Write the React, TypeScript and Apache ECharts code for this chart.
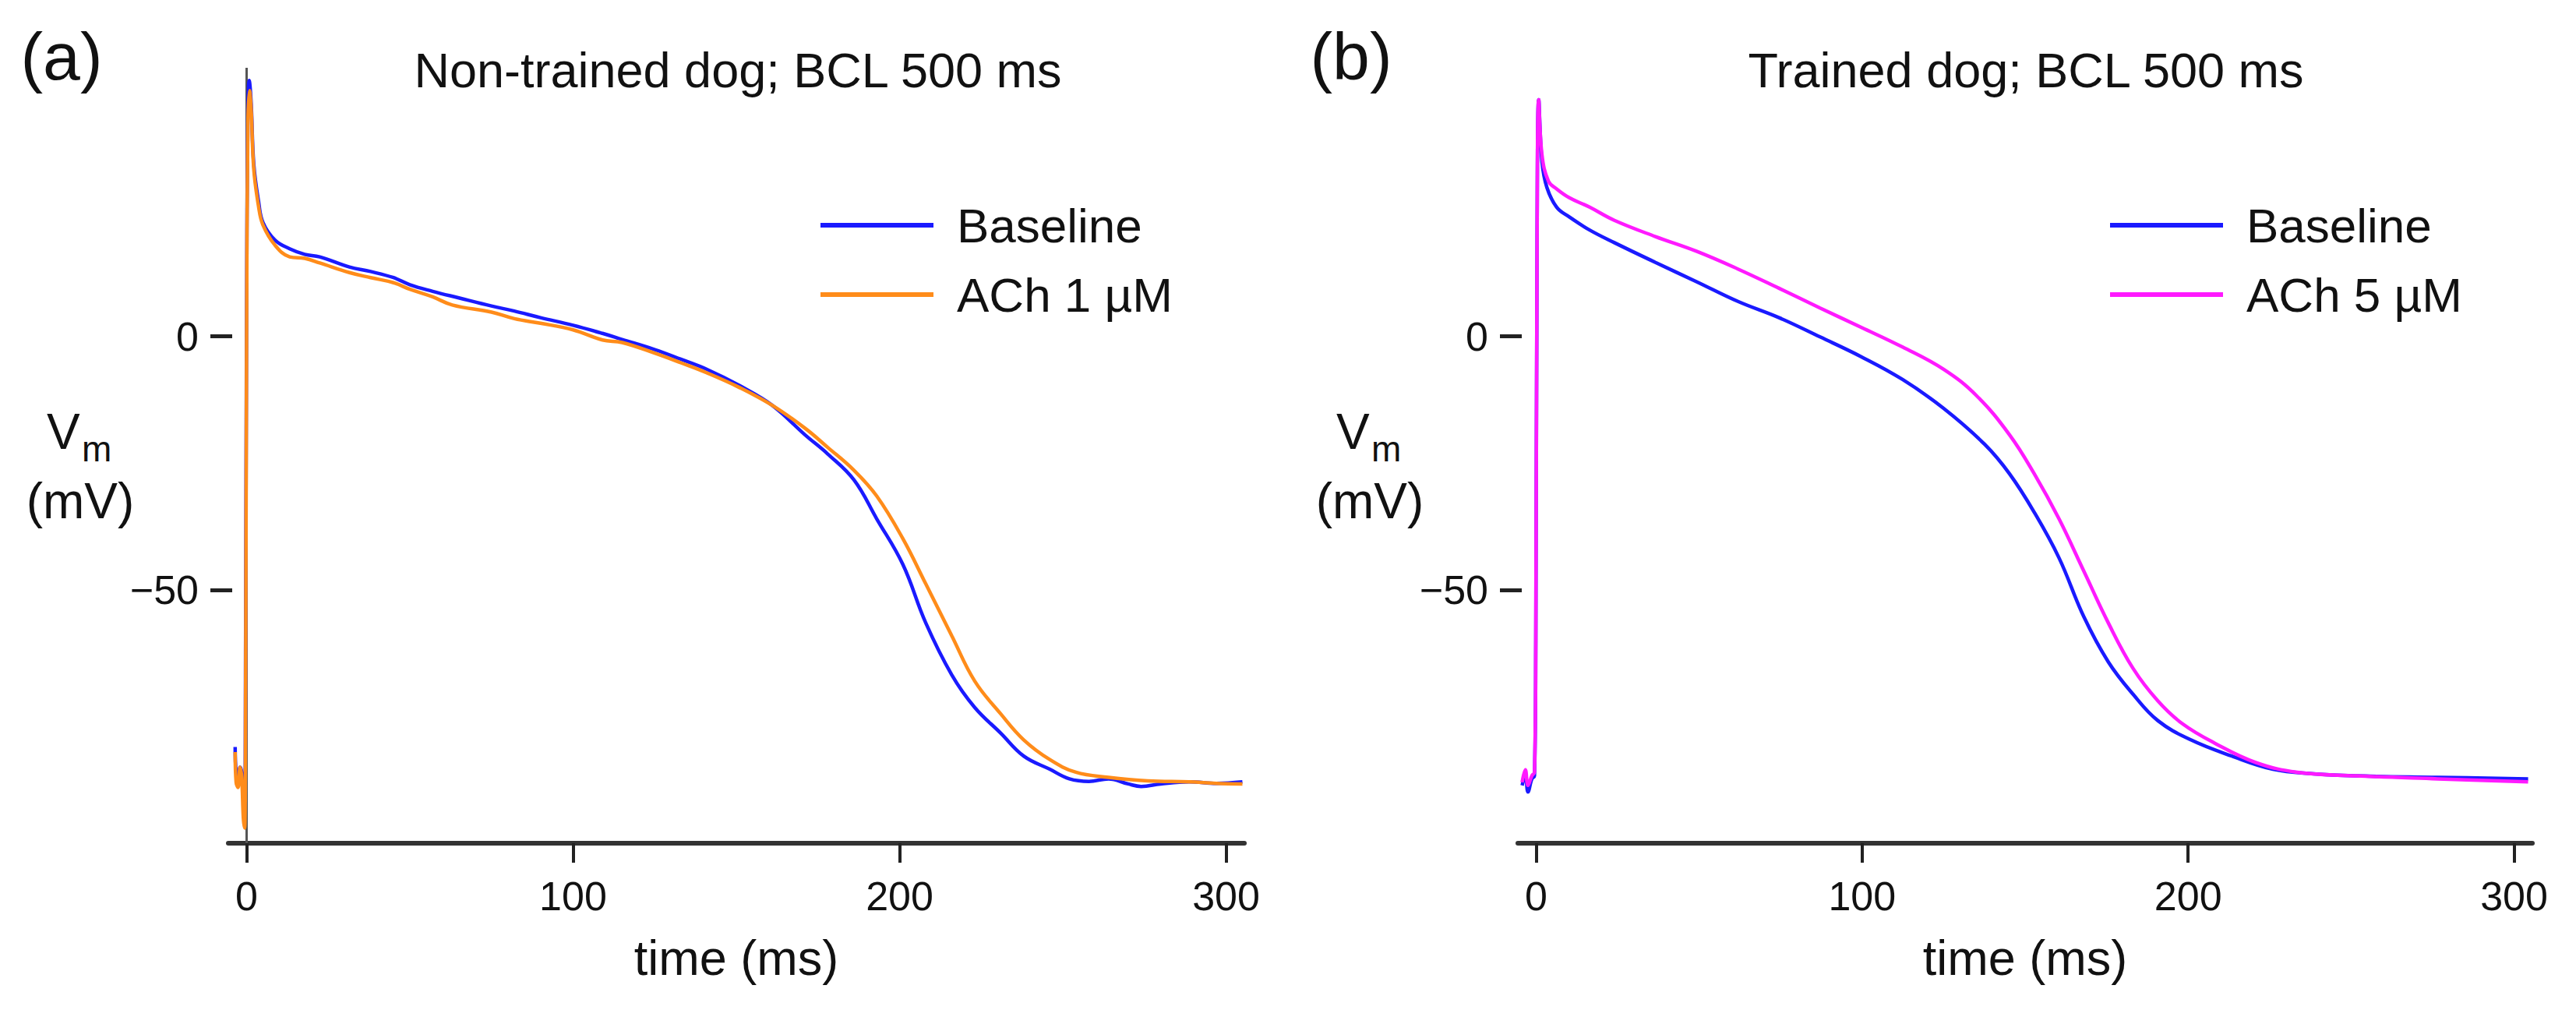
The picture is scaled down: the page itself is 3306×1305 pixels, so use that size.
import React, { useEffect, useRef } from "react";
import * as echarts from "echarts";

// ---------- data ----------
const xTicks = [0, 100, 200, 300];
const yTicks = [-50, 0];

// Panel (a): non-trained dog
const tA_base = [-3.5, -3.2, -2.6, -2.0, -1.5, -1.0, -0.6, -0.3, 0.0, 0.4, 0.8, 1.4, 2.2, 3.7, 5.0, 8.7, 13.2, 17.8, 22.4, 31.5, 38, 45, 50, 57, 65, 75, 82, 90, 100, 109, 115, 125, 133, 141, 151, 161, 171, 178, 186, 193, 201, 208, 216, 223, 231, 238, 246, 252, 258, 264, 270, 274, 280, 289, 297, 305];
const vA_base = [-81, -86, -87, -85, -86, -90, -93, -60, 5, 45, 50.5, 46, 34, 26.5, 22.5, 19, 17.3, 16.2, 15.7, 13.7, 12.8, 11.6, 10.2, 8.9, 7.6, 6.0, 5.0, 3.7, 2.2, 0.6, -0.6, -2.6, -4.5, -6.5, -9.7, -13.6, -19.4, -23.2, -28.3, -36, -45, -56.5, -66.8, -73.2, -78.3, -82.8, -85.4, -87.3, -87.8, -87.3, -88.3, -88.8, -88.3, -87.9, -88.2, -87.9];

const tA_ach = [-3.5, -3.2, -2.6, -2.0, -1.5, -1.0, -0.6, -0.3, 0.0, 0.4, 0.9, 1.4, 2.2, 3.7, 5.0, 8.7, 13.2, 17.8, 22.4, 31.5, 38, 45, 50, 57, 63, 75, 82, 90, 100, 109, 115, 125, 133, 141, 151, 161, 171, 178, 186, 193, 201, 208, 216, 223, 231, 238, 246, 254, 264, 276, 289, 297, 305];
const vA_ach = [-82, -88, -89, -85, -87, -95, -97, -70, 0, 42, 48.5, 45, 33, 25.5, 22, 18, 15.7, 15.4, 14.5, 12.6, 11.6, 10.6, 9.3, 7.8, 6.2, 4.8, 3.5, 2.6, 1.3, -0.7, -1.2, -3.3, -5.2, -7.2, -10.1, -13.6, -18.1, -21.9, -26.4, -31.5, -39.9, -48.8, -59.1, -68, -74.5, -79.6, -83.5, -86, -87, -87.7, -87.9, -88.2, -88.3];

// thin vertical trace at t = 0 in panel (a)
const stimLineA = [[0, 53], [0, -100]];

// Panel (b): trained dog
const tB_base = [-4.3, -3.3, -2.5, -1.3, -0.5, -0.1, 0.3, 0.8, 1.8, 3.3, 6.3, 10.1, 16.4, 24, 36.6, 49.2, 61.9, 74.5, 87.1, 99.7, 112.4, 125, 137.6, 145.2, 152.8, 160.4, 168, 175.5, 183.1, 190.7, 200.8, 213.4, 226, 238.6, 251.3, 276.5, 304.3];
const vB_base = [-88.6, -86.7, -89.9, -87.3, -86.7, -60, 20, 46.7, 34.5, 29.4, 25.5, 23.6, 21, 18.5, 14.6, 10.8, 6.9, 3.7, -0.1, -4, -8.5, -14.2, -21.3, -27.1, -34.7, -43.7, -55.3, -64.2, -70.6, -75.8, -79.6, -82.8, -85.4, -86.3, -86.7, -87, -87.3];

const tB_ach = [-4.3, -3.3, -2.5, -1.3, -0.5, -0.1, 0.3, 0.8, 1.8, 3.8, 6.3, 10.1, 16.4, 24, 36.6, 49.2, 61.9, 74.5, 87.1, 99.7, 112.4, 125, 135.1, 145.2, 152.8, 160.4, 168, 175.5, 183.1, 190.7, 198.2, 208.3, 220.9, 233.5, 251.3, 276.5, 304.3];
const vB_ach = [-88, -85.5, -88.6, -86.7, -86, -60, 20, 46.7, 35.8, 30.6, 29.1, 27.4, 25.5, 22.9, 19.7, 16.8, 13.3, 9.5, 5.6, 1.8, -2.1, -6.5, -11.7, -19.4, -27.1, -36, -46.3, -56.5, -65.5, -71.9, -76.4, -80.3, -84.1, -86, -86.7, -87.3, -87.9];

const titles = ["Non-trained dog; BCL 500 ms", "Trained dog; BCL 500 ms"];
const panelLetters = ["(a)", "(b)"];
const legendNames = [["Baseline", "ACh 1 µM"], ["Baseline", "ACh 5 µM"]];

// ---------- styling ----------
const FONT = "Liberation Sans, Arial, sans-serif";
const TXT = "#111111";
const BLUE = "#1a1aff";
const ORANGE = "#ff8c1a";
const MAGENTA = "#ff1aff";

const zip = (t: number[], v: number[]) => t.map((x, i) => [x, v[i]]);

const GRIDS = [
  { left: 293, top: 74, width: 1304, height: 1008 },
  { left: 1948, top: 74, width: 1302, height: 1008 },
];

export default function App() {
  const ref = useRef<HTMLDivElement>(null);

  useEffect(() => {
    if (!ref.current) return;
    const chart = echarts.init(ref.current, null, { renderer: "svg" });

    const xAxes = GRIDS.map((_, i) => ({
      type: "value",
      gridIndex: i,
      min: -5.6,
      max: 305.6,
      axisLine: { show: true, onZero: false, lineStyle: { color: "#333333", width: 6 } },
      axisTick: { show: true, length: 25, customValues: xTicks, lineStyle: { color: "#222", width: 4 } },
      axisLabel: { customValues: xTicks, margin: 42, fontSize: 52, lineHeight: 52, color: TXT, fontFamily: FONT },
      splitLine: { show: false },
      name: "time (ms)",
      nameLocation: "middle",
      nameGap: 115,
      nameTextStyle: { fontSize: 63, lineHeight: 63, color: TXT, fontFamily: FONT },
    }));

    const yAxes = GRIDS.map((_, i) => ({
      type: "value",
      gridIndex: i,
      min: -100,
      max: 55,
      offset: -5,
      axisLine: { show: false, onZero: false },
      axisTick: { show: true, length: 28, customValues: yTicks, lineStyle: { color: "#222", width: 5 } },
      axisLabel: {
        customValues: yTicks,
        margin: 43,
        fontSize: 52,
        color: TXT,
        fontFamily: FONT,
        formatter: (v: number) => String(v).replace("-", "\u2212"),
      },
      splitLine: { show: false },
    }));

    const lineSeries = (name: string, idx: number, data: number[][], color: string, z: number, extra: any = {}) => ({
      type: "line",
      name,
      xAxisIndex: idx,
      yAxisIndex: idx,
      data,
      symbol: "none",
      showSymbol: false,
      smooth: 0.4,
      lineStyle: { color, width: 4.5 },
      itemStyle: { color },
      z,
      ...extra,
    });

    const textEl = (text: string, x: number, y: number, size: number, align = "center") => ({
      type: "text",
      x,
      y,
      silent: true,
      style: {
        text,
        fontSize: size,
        fontFamily: FONT,
        fill: TXT,
        align,
        textAlign: align,
        verticalAlign: "middle",
        textVerticalAlign: "middle",
      },
    });

    const graphics: any[] = [];
    const shift = 1655;
    [0, 1].forEach((i) => {
      const dx = i * shift;
      graphics.push(textEl(panelLetters[i], 79 + dx, 72, 86));
      graphics.push(textEl(titles[i], i === 0 ? 947 : 2600, 90, 63));
      graphics.push(textEl("V", 60 + dx, 554, 64, "left"));
      graphics.push(textEl("m", 105 + dx, 576, 46, "left"));
      graphics.push(textEl("(mV)", 103 + dx, 643, 64));
    });

    const option: any = {
      animation: false,
      backgroundColor: "#ffffff",
      grid: GRIDS.map((g) => ({ ...g, containLabel: false, outerBoundsMode: "none" })),
      xAxis: xAxes,
      yAxis: yAxes,
      legend: legendNames.map((names, i) => ({
        data: names,
        left: i === 0 ? 1048 : 2703,
        top: 253,
        orient: "vertical",
        icon: "rect",
        itemWidth: 145,
        itemHeight: 6,
        itemGap: 27,
        selectedMode: false,
        textStyle: { fontSize: 62, lineHeight: 62, color: TXT, fontFamily: FONT, padding: [0, 0, 0, 25] },
      })),
      series: [
        lineSeries("Baseline", 0, zip(tA_base, vA_base), BLUE, 3, {
          markLine: {
            silent: true,
            symbol: "none",
            z: 1,
            label: { show: false },
            lineStyle: { color: "#555555", width: 3, type: "solid" },
            data: [[{ coord: stimLineA[0] }, { coord: stimLineA[1] }]],
          },
        }),
        lineSeries("ACh 1 µM", 0, zip(tA_ach, vA_ach), ORANGE, 4),
        lineSeries("Baseline", 1, zip(tB_base, vB_base), BLUE, 3),
        lineSeries("ACh 5 µM", 1, zip(tB_ach, vB_ach), MAGENTA, 4),
      ],
      graphic: graphics,
    };

    chart.setOption(option);
    return () => chart.dispose();
  }, []);

  return (
    <div
      ref={ref}
      style={{ position: "absolute", left: 0, top: 0, width: 3306, height: 1305, background: "#fff" }}
    />
  );
}
